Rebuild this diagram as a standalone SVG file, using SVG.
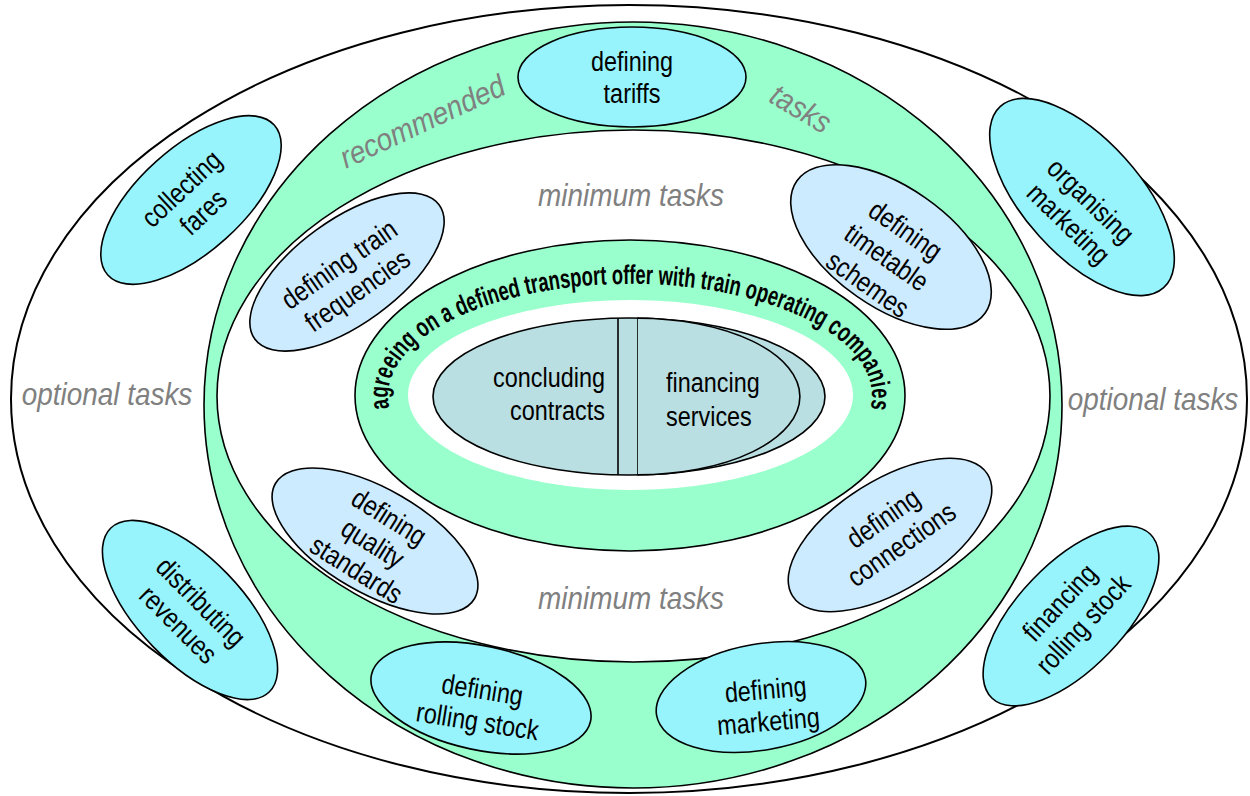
<svg xmlns="http://www.w3.org/2000/svg" width="1250" height="796" viewBox="0 0 1250 796">
  <style>
    .edge { stroke: #000; stroke-width: 1.6; }
    .white { fill: #fff; }
    .green { fill: #99FFCC; }
    .cyan { fill: #97F4FC; stroke: #000; stroke-width: 1.6; }
    .pale { fill: #CCEBFF; stroke: #000; stroke-width: 1.6; }
    .core-fill { fill: #BADFE2; stroke: #000; stroke-width: 1.6; }
    .lbl { font-family: "Liberation Sans", Arial, sans-serif; font-size: 28px; fill: #000; text-anchor: middle; }
    .zone { font-family: "Liberation Sans", Arial, sans-serif; font-size: 31px; font-style: italic; fill: #808080; text-anchor: middle; }
    .ring { font-family: "Liberation Sans", Arial, sans-serif; font-size: 27px; font-weight: bold; fill: #000; }
  </style>
  <defs>
    <!-- baseline of the lettering that runs round the inner green ring -->
    <path id="ringPath" d="M 390.4 411.6 A 242 112 0 1 1 869.6 411.6" fill="none"/>
  </defs>

  <rect width="1250" height="796" fill="#fff"/>

  <!-- optional tasks zone -->
  <g id="optional-zone">
    <ellipse cx="629" cy="399" rx="618" ry="394" class="white" stroke="#000" stroke-width="2"/>
    <g transform="translate(107,396) scale(0.9,1)"><text class="zone" x="0" y="9">optional tasks</text></g>
    <g transform="translate(1153,401) scale(0.9,1)"><text class="zone" x="0" y="9">optional tasks</text></g>
  </g>

  <!-- recommended tasks zone -->
  <g id="recommended-zone">
    <ellipse cx="633" cy="405" rx="429" ry="383" class="green edge"/>
    <g transform="translate(423,123) rotate(-25) scale(0.9,1)"><text class="zone" x="0" y="9">recommended</text></g>
    <g transform="translate(800,110) rotate(31) scale(0.9,1)"><text class="zone" x="0" y="9">tasks</text></g>
  </g>

  <!-- minimum tasks zone -->
  <g id="minimum-zone">
    <ellipse cx="633.5" cy="396" rx="416.5" ry="266" class="white edge"/>
    <g transform="translate(631,197) scale(0.9,1)"><text class="zone" x="0" y="9">minimum tasks</text></g>
    <g transform="translate(631,600) scale(0.9,1)"><text class="zone" x="0" y="9">minimum tasks</text></g>
  </g>

  <!-- agreeing ring: lettering set in runs along one baseline -->
  <g id="agreeing-ring">
    <ellipse cx="630" cy="395.5" rx="275" ry="155.5" class="green edge"/>
    <ellipse cx="630.5" cy="395" rx="222.5" ry="95" class="white"/>
    <text class="ring"><textPath href="#ringPath" startOffset="3.5" textLength="119.8" lengthAdjust="spacingAndGlyphs">agreeing on a</textPath></text>
    <text class="ring"><textPath href="#ringPath" startOffset="128.5" textLength="284.7" lengthAdjust="spacingAndGlyphs">defined transport offer with train</textPath></text>
    <text class="ring"><textPath href="#ringPath" startOffset="418.3" textLength="84" lengthAdjust="spacingAndGlyphs">operating</textPath></text>
    <text class="ring"><textPath href="#ringPath" startOffset="507.4" textLength="96.3" lengthAdjust="spacingAndGlyphs">companies</textPath></text>
  </g>

  <!-- core: contracts and financing -->
  <g id="concluding-contracts">
    <ellipse cx="629" cy="396.5" rx="196" ry="78.5" class="core-fill"/>
    <line x1="618" y1="318.2" x2="618" y2="474.8" class="edge"/>
    <line x1="638" y1="317.5" x2="638" y2="475.5" class="edge"/>
    <g transform="translate(605,0) scale(0.836,1)">
      <text class="lbl" style="text-anchor:end"><tspan x="0" y="387">concluding</tspan><tspan x="0" y="420">contracts</tspan></text>
    </g>
  </g>
  <g id="financing-services">
    <path d="M 638 318.2 A 162 78.3 0 0 1 638 474.8" class="core-fill"/>
    <g transform="translate(666,0) scale(0.836,1)">
      <text class="lbl" style="text-anchor:start"><tspan x="0" y="392">financing</tspan><tspan x="0" y="426">services</tspan></text>
    </g>
  </g>

  <!-- recommended task nodes -->
  <g id="defining-tariffs">
    <ellipse cx="632" cy="77" rx="114" ry="50" class="cyan"/>
    <g transform="translate(632,77) scale(0.836,1)"><text class="lbl"><tspan x="0" y="-6">defining</tspan><tspan x="0" y="26">tariffs</tspan></text></g>
  </g>
  <g id="defining-rolling-stock">
    <ellipse cx="0" cy="0" rx="112" ry="52" class="cyan" transform="translate(481,698) rotate(12)"/>
    <g transform="translate(480,705) rotate(9) scale(0.836,1)"><text class="lbl"><tspan x="0" y="-6">defining</tspan><tspan x="0" y="26">rolling stock</tspan></text></g>
  </g>
  <g id="defining-marketing">
    <ellipse cx="0" cy="0" rx="106" ry="53" class="cyan" transform="translate(761,697) rotate(-10)"/>
    <g transform="translate(767,705) rotate(-5) scale(0.836,1)"><text class="lbl"><tspan x="0" y="-6">defining</tspan><tspan x="0" y="26">marketing</tspan></text></g>
  </g>

  <!-- optional task nodes -->
  <g id="collecting-fares">
    <ellipse cx="0" cy="0" rx="112" ry="52" class="cyan" transform="translate(191,200) rotate(-42)"/>
    <g transform="translate(192,200) rotate(-43) scale(0.836,1)"><text class="lbl"><tspan x="0" y="-6">collecting</tspan><tspan x="0" y="26">fares</tspan></text></g>
  </g>
  <g id="organising-marketing">
    <ellipse cx="0" cy="0" rx="122" ry="58" class="cyan" transform="translate(1082,197) rotate(48)"/>
    <g transform="translate(1080,212) rotate(44) scale(0.836,1)"><text class="lbl"><tspan x="0" y="-6">organising</tspan><tspan x="0" y="26">marketing</tspan></text></g>
  </g>
  <g id="distributing-revenues">
    <ellipse cx="0" cy="0" rx="114" ry="52" class="cyan" transform="translate(190,610) rotate(46)"/>
    <g transform="translate(190,613) rotate(45) scale(0.836,1)"><text class="lbl"><tspan x="0" y="-6">distributing</tspan><tspan x="0" y="26">revenues</tspan></text></g>
  </g>
  <g id="financing-rolling-stock">
    <ellipse cx="0" cy="0" rx="114" ry="53" class="cyan" transform="translate(1071,616) rotate(-46)"/>
    <g transform="translate(1071,613) rotate(-47) scale(0.836,1)"><text class="lbl"><tspan x="0" y="-6">financing</tspan><tspan x="0" y="26">rolling stock</tspan></text></g>
  </g>

  <!-- minimum task nodes -->
  <g id="defining-train-frequencies">
    <ellipse cx="0" cy="0" rx="114" ry="52" class="pale" transform="translate(347,272) rotate(-36)"/>
    <g transform="translate(348,277) rotate(-35) scale(0.836,1)"><text class="lbl"><tspan x="0" y="-6">defining train</tspan><tspan x="0" y="26">frequencies</tspan></text></g>
  </g>
  <g id="defining-timetable-schemes">
    <ellipse cx="0" cy="0" rx="115" ry="60" class="pale" transform="translate(891,247) rotate(35)"/>
    <g transform="translate(887,257) rotate(35) scale(0.836,1)"><text class="lbl"><tspan x="0" y="-23">defining</tspan><tspan x="0" y="10">timetable</tspan><tspan x="0" y="43">schemes</tspan></text></g>
  </g>
  <g id="defining-quality-standards">
    <ellipse cx="0" cy="0" rx="115" ry="52" class="pale" transform="translate(375,541) rotate(30)"/>
    <g transform="translate(373,543) rotate(32) scale(0.836,1)"><text class="lbl"><tspan x="0" y="-21">defining</tspan><tspan x="0" y="10">quality</tspan><tspan x="0" y="41">standards</tspan></text></g>
  </g>
  <g id="defining-connections">
    <ellipse cx="0" cy="0" rx="115" ry="55" class="pale" transform="translate(890,535) rotate(-32)"/>
    <g transform="translate(892,531) rotate(-35) scale(0.836,1)"><text class="lbl"><tspan x="0" y="-6">defining</tspan><tspan x="0" y="26">connections</tspan></text></g>
  </g>

  <g id="connectors"/>
</svg>
